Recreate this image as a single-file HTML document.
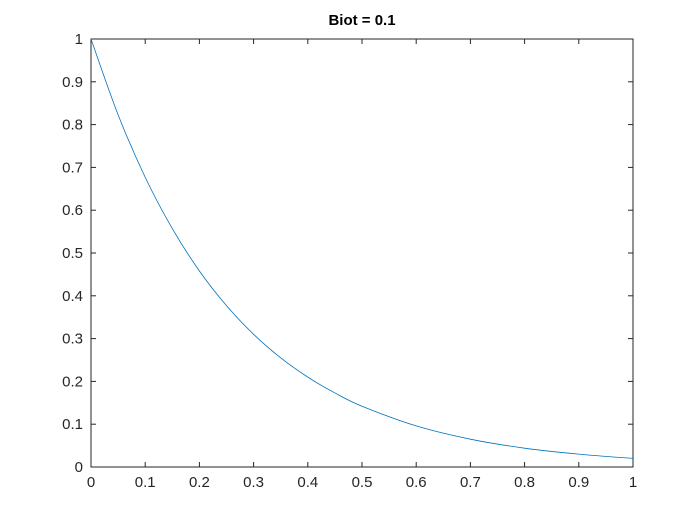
<!DOCTYPE html>
<html><head><meta charset="utf-8"><style>
html,body{margin:0;padding:0;background:#fff;}
svg{display:block;font-family:"Liberation Sans",Arial,sans-serif;}
</style></head><body>
<svg id="chart" width="700" height="525"></svg>
<script>
const xValues=[0,0.05,0.1,0.15,0.2,0.25,0.3,0.35,0.4,0.45,0.5,0.6,0.7,0.8,0.9,1.0];
const yValues=[1,0.823,0.677,0.557,0.458,0.377,0.31,0.255,0.21,0.173,0.142,0.096,0.065,0.044,0.03,0.02];
const xTicks=[0,0.1,0.2,0.3,0.4,0.5,0.6,0.7,0.8,0.9,1];
const yTicks=[0,0.1,0.2,0.3,0.4,0.5,0.6,0.7,0.8,0.9,1];
const titleText="Biot = 0.1";

const L=91,R=633,T=39,B=467;
const sx=v=>L+(R-L)*v, sy=v=>B-(B-T)*v;
const svg=document.getElementById('chart');
const NS='http://www.w3.org/2000/svg';
function mk(tag,attrs,parent){const e=document.createElementNS(NS,tag);for(const k in attrs)e.setAttribute(k,attrs[k]);(parent||svg).appendChild(e);return e;}

const box=mk('rect',{x:L,y:T,width:R-L,height:B-T,fill:'#fff',stroke:'#262626','stroke-width':1});



const xg=mk('g',{});


xTicks.forEach(v=>{const x=sx(v);
 mk('line',{x1:x,y1:B,x2:x,y2:B-5,stroke:'#262626'},xg);
 mk('line',{x1:x,y1:T,x2:x,y2:T+5,stroke:'#262626'},xg);
 const t=mk('text',{x:x,y:B+20,'text-anchor':'middle','font-size':15,fill:'#262626'},xg);
 t.textContent=String(v);
 
 
});
const yg=mk('g',{});


yTicks.forEach(v=>{const y=sy(v);
 mk('line',{x1:L,y1:y,x2:L+5,y2:y,stroke:'#262626'},yg);
 mk('line',{x1:R,y1:y,x2:R-5,y2:y,stroke:'#262626'},yg);
 const t=mk('text',{x:L-8,y:y+5,'text-anchor':'end','font-size':15,fill:'#262626'},yg);
 t.textContent=String(v);
 
 
});

const pts=xValues.map((v,i)=>[sx(v),sy(yValues[i])]);
let d='M'+pts[0][0]+','+pts[0][1];
for(let i=0;i<pts.length-1;i++){
 const p0=pts[Math.max(0,i-1)],p1=pts[i],p2=pts[i+1],p3=pts[Math.min(pts.length-1,i+2)];
 const c1=[p1[0]+(p2[0]-p0[0])/6,p1[1]+(p2[1]-p0[1])/6];
 const c2=[p2[0]-(p3[0]-p1[0])/6,p2[1]-(p3[1]-p1[1])/6];
 d+=` C${c1[0]},${c1[1]} ${c2[0]},${c2[1]} ${p2[0]},${p2[1]}`;
}
const line=mk('path',{d:d,fill:'none',stroke:'#0072bd','stroke-width':0.8});



const title=mk('text',{x:(L+R)/2,y:25,'text-anchor':'middle','font-size':15,'font-weight':'bold',fill:'#000'});
title.textContent=titleText;


</script>
</body></html>
